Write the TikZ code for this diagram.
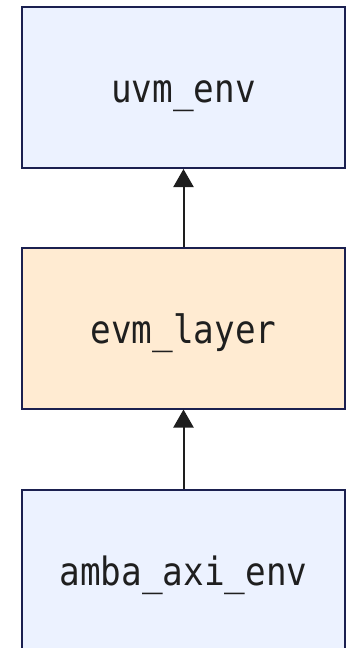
\documentclass[tikz,border=0pt]{standalone}
\usepackage{fontspec}
\setmonofont[FakeStretch=0.88]{DejaVu Sans Mono}
\usetikzlibrary{arrows.meta}
\definecolor{blueFill}{HTML}{ECF2FF}
\definecolor{orangeFill}{HTML}{FFEBD2}
\definecolor{navyLine}{HTML}{1B2050}
\definecolor{arrowCol}{HTML}{1E1E1E}
\newcommand{\lbl}[1]{\raisebox{-15pt}[0pt][0pt]{#1}}
\begin{document}
\begin{tikzpicture}[x=1pt,y=1pt,
  layerbox/.style={draw=navyLine,line width=2pt,minimum width=323pt,minimum height=161pt,inner sep=0pt,
    font=\ttfamily\fontsize{39}{44}\selectfont,text=black!88},
  uparrow/.style={draw=arrowCol,line width=2pt,-{Triangle[length=18pt,width=20pt]}}]
\useasboundingbox (0,0) rectangle (346,-648);
\clip (0,0) rectangle (346,-648);
\node[layerbox,fill=blueFill] (uvm) at (183.5,-87.5) {\lbl{uvm\_env}};
\node[layerbox,fill=orangeFill] (evm) at (183.5,-328) {\lbl{evm\_layer}};
\node[layerbox,fill=blueFill] (amba) at (183.5,-570) {\lbl{amba\_axi\_env}};
\draw[uparrow] (evm.north) -- (uvm.south);
\draw[uparrow] (amba.north) -- (evm.south);
\end{tikzpicture}
\end{document}
